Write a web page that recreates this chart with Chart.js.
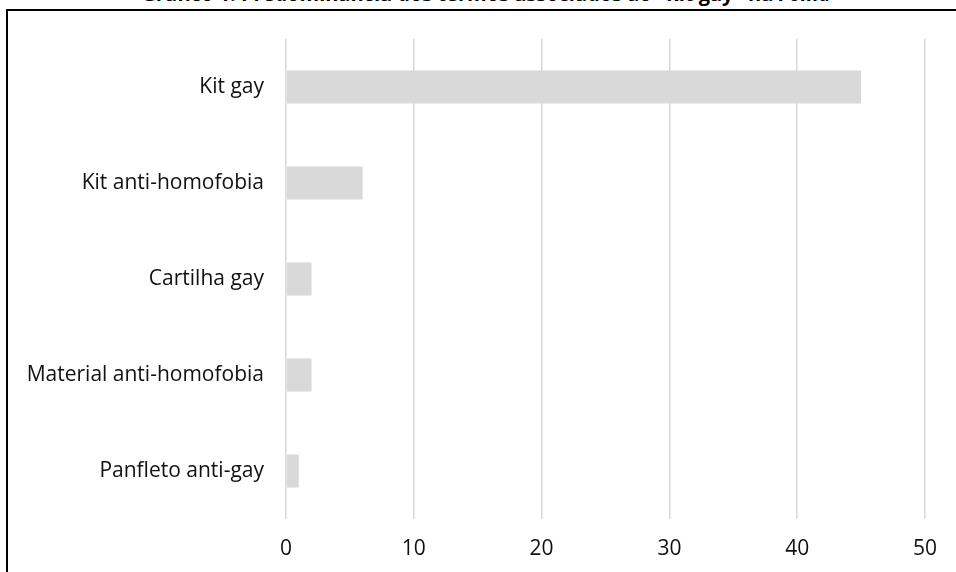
<!DOCTYPE html>
<html>
<head>
<meta charset="utf-8">
<script src="https://cdn.jsdelivr.net/npm/chart.js@4/dist/chart.umd.min.js"></script>
<style>
  html, body { margin: 0; padding: 0; background: #fff; overflow: hidden; }
  #wrap { position: relative; width: 956px; height: 572px; overflow: hidden; }
  #frame { position: absolute; left: 6px; top: 9px; width: 2000px; height: 2000px; border: 2px solid #000; }
  #title { position: absolute; left: 0; top: -19px; width: 972px; text-align: center;
           font: bold 20px "Open Sans", sans-serif; line-height: 26px; color: #000; white-space: nowrap; }
  canvas { position: absolute; left: 0; top: 0; }
</style>
</head>
<body>
<div id="wrap">
  <div id="frame"></div>
  <div id="title">Gráfico 1: Predominância dos termos associados ao "kit gay" na <i>Folha</i></div>
  <canvas id="grafico" width="956" height="572"></canvas>
</div>
<script>
  // Termos e número de ocorrências
  const termos = ["Kit gay", "Kit anti-homofobia", "Cartilha gay", "Material anti-homofobia", "Panfleto anti-gay"];
  const ocorrencias = [45, 6, 2, 2, 1];
  const eixoMin = 0;
  const eixoMax = 50;
  const passo = 10;

  const fonte = { family: "'Open Sans', sans-serif", size: 21 };

  new Chart(document.getElementById("grafico").getContext("2d"), {
    type: "bar",
    data: {
      labels: termos,
      datasets: [{
        data: ocorrencias,
        backgroundColor: "#d9d9d9",
        borderWidth: 0,
        barPercentage: 0.345,
        categoryPercentage: 1
      }]
    },
    options: {
      indexAxis: "y",
      responsive: false,
      animation: false,
      layout: { padding: { top: 39, right: 31, left: 0, bottom: 0 } },
      plugins: { legend: { display: false }, tooltip: { enabled: false } },
      scales: {
        x: {
          min: eixoMin,
          max: eixoMax,
          afterFit: s => { s.height = 53; },
          ticks: { stepSize: passo, color: "#111", font: fonte, padding: 17, maxRotation: 0 },
          grid: { color: "#d9d9d9", lineWidth: 1.5, drawTicks: false },
          border: { display: false }
        },
        y: {
          afterFit: s => { s.width = 286; },
          ticks: { color: "#111", font: fonte, padding: 22 },
          grid: { display: false, drawTicks: false },
          border: { display: false }
        }
      }
    }
  });
</script>
</body>
</html>
